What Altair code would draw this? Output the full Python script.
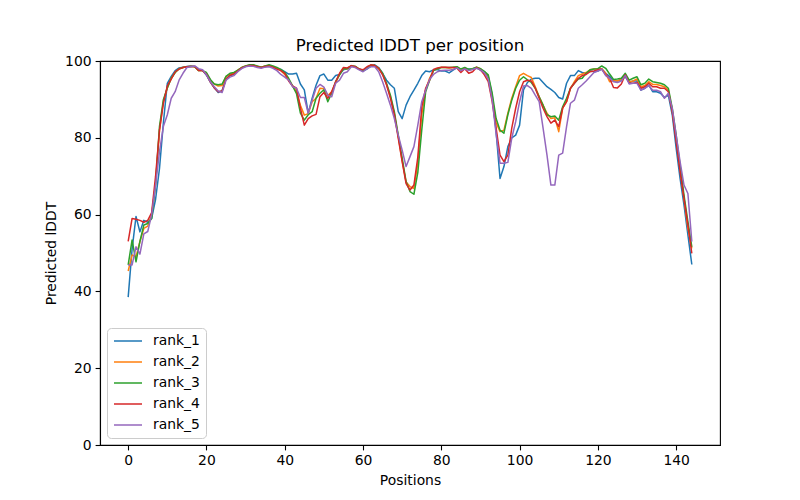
import altair as alt
import pandas as pd

positions = list(range(145))
series_names = ["rank_1", "rank_2", "rank_3", "rank_4", "rank_5"]
series_colors = ["#1f77b4", "#ff7f0e", "#2ca02c", "#d62728", "#9467bd"]

rank_1 = [
    38.5, 51, 59.5, 55.5, 58.5, 58, 59, 64, 72, 84,
    94.2, 96, 97.5, 98.2, 98.4, 98.6, 98.7, 98.6, 97.8, 97.6,
    96.3, 94.5, 93, 91.8, 92.3, 95.3, 96.2, 96.5, 97.5, 98.2,
    98.6, 98.8, 98.8, 98.5, 98.3, 98.6, 98.7, 98.4, 98, 97.8,
    97.2, 96.6, 96.6, 96.8, 94, 92.5, 86.4, 90.3, 93.7, 96.2,
    96.6, 95, 95, 96.2, 96.5, 97.7, 98, 98.7, 98.6, 97.9,
    97.4, 97.9, 98.7, 99, 98.3, 96.8, 95, 93.8, 92.9, 86.8,
    85, 88.5, 90.7, 92.4, 94.2, 96.2, 97.4, 97.2, 97.7, 97.8,
    97.4, 97.4, 96.9, 97.6, 98.3, 97.6, 98, 97.9, 98, 98.3,
    97.6, 97.2, 95.9, 91.1, 81.6, 69.4, 72.5, 77.7, 80, 80.7,
    83.3, 92.5, 94.4, 95.3, 95.5, 95.5, 94.4, 93.3, 92.6, 91.8,
    90.5, 90.1, 94.2, 96.2, 96.2, 97.5, 97, 96.8, 97.5, 97.2,
    97.4, 97.9, 96.8, 96, 94.8, 94.8, 95.1, 95.9, 94.4, 94.8,
    94.8, 92.4, 92.9, 93.7, 92, 92, 91.6, 90.5, 91.1, 86,
    77.3, 69.4, 62.5, 54.7, 47,
]
rank_2 = [
    45.3, 49.5, 49, 53, 56.4, 57, 60, 68, 82, 89.5,
    93, 95.5, 97, 98, 98.3, 98.5, 98.6, 98.5, 97.5, 97.5,
    96.8, 95, 94, 93.5, 93.6, 96, 96.6, 96.8, 97.6, 98.3,
    98.7, 98.9, 98.9, 98.6, 98.4, 98.7, 98.8, 98.5, 98, 97.5,
    96.5, 95, 93.5, 92, 88.5, 85.9, 86.3, 89.4, 90.3, 92.9,
    92.8, 91, 92, 94.3, 96.5, 98, 98, 98.7, 98.6, 97.9,
    97.5, 98.2, 98.9, 98.8, 98.1, 96.6, 93.9, 90.7, 86.3, 80.3,
    74, 68.5, 67.3, 66.8, 73.5, 86, 92.5, 95.5, 97.5, 98,
    98.3, 98.3, 98.2, 98.3, 98.5, 97.8, 98.2, 97.6, 97.9, 98.4,
    98, 97, 95.5, 90.3, 84, 81.6, 82, 86.4, 90.3, 93.3,
    96.2, 96.8, 96.2, 95.7, 93.3, 90.7, 88.5, 86.4, 85, 85.2,
    81.6, 87.7, 89.4, 92.9, 94.6, 96.2, 96.6, 97, 97.7, 97.9,
    98, 98, 96.8, 94.6, 95, 94.8, 95.3, 96.4, 94.6, 94.8,
    95.3, 93.3, 93.6, 94.6, 93.9, 93.9, 93.6, 93.3, 92.4, 87.2,
    79.9, 72.1, 64.2, 56.4, 51.2,
]
rank_3 = [
    46.9, 53.4, 47.7, 53, 57.3, 57.7, 59, 68, 83, 90,
    93, 95.5, 97, 98, 98.3, 98.5, 98.6, 98.5, 97.5, 97.5,
    97, 95.2, 94, 93.8, 94, 96, 96.8, 97, 97.6, 98.3,
    98.7, 99, 99, 98.7, 98.4, 98.7, 99, 98.7, 98.3, 97.8,
    97, 95.5, 93.5, 91.5, 86.4, 84.6, 86, 86.8, 90.3, 91.6,
    92.5, 89.4, 91.6, 94.6, 96.4, 98, 98, 98.7, 98.6, 97.9,
    97.5, 98.2, 98.9, 98.8, 98.1, 96.8, 94.2, 91.1, 86.8, 80.7,
    74.7, 68.6, 66, 65.3, 71, 82, 92, 94.9, 97.5, 98,
    98.3, 98.3, 98.3, 98.4, 98.5, 97.9, 98.3, 97.8, 98, 98.4,
    98, 97.3, 96.4, 91.6, 85, 82, 81.2, 86, 89.8, 92.9,
    95, 95.9, 95.1, 94.4, 92.9, 90.7, 88.5, 86, 85.5, 85.7,
    84.6, 88.1, 90.3, 92.9, 94.2, 95.3, 95.5, 96.8, 97.7, 97.9,
    98, 98.7, 98.1, 96.6, 95.2, 95.3, 95.5, 96.8, 95, 95.5,
    95.9, 93.8, 94.2, 95.3, 94.6, 94.4, 94.2, 93.8, 92.9, 87.7,
    80.7, 72.9, 65.1, 58.2, 51.6,
]
rank_4 = [
    53, 59, 58.8, 58.5, 58, 58.5, 60.5, 70, 82, 89,
    93.5, 95.3, 97.2, 97.9, 98.3, 98.5, 98.6, 98.6, 97.5, 97.5,
    96.5, 94.5, 93, 92, 92.2, 95.3, 96.3, 96.6, 97.4, 98.2,
    98.6, 98.8, 98.8, 98.5, 98.3, 98.6, 98.7, 98.4, 97.9, 97.5,
    96.8, 94.8, 93.5, 92.9, 87.7, 83.3, 85, 85.7, 86.1, 90.7,
    91.8, 90.3, 92, 94.6, 96.8, 98.3, 98.2, 98.8, 98.5, 97.9,
    97.7, 98.5, 99, 98.8, 98.1, 96.4, 93.8, 90.3, 86, 79.9,
    73.8, 68.1, 66.4, 67.7, 75, 88, 92.9, 95, 97.8, 98.2,
    98.4, 98.4, 98.3, 98.3, 98.1, 97, 98, 96.8, 97.2, 98.3,
    97.7, 96.4, 94.6, 89.4, 82.5, 75.5, 73.8, 75.5, 82.5, 87.7,
    92, 94.6, 95, 94.8, 92.9, 90.3, 87.7, 85.5, 83.8, 84.6,
    82.9, 87.7, 89.4, 92.9, 94.2, 95.5, 96.2, 96.5, 97.2, 97.4,
    97.7, 97.9, 96.4, 95.5, 93.1, 93, 94, 96.4, 94.2, 94.2,
    94.4, 92.9, 93.3, 94.2, 93.3, 93.3, 92.9, 92.9, 92, 86.8,
    79, 71.2, 64.2, 57.3, 49.9,
]
rank_5 = [
    46.9, 46.9, 51.6, 49.7, 55, 55.6, 60, 67.7, 76.4, 83,
    86, 90.3, 92, 95, 96.8, 98.3, 98.5, 98.7, 98, 97.7,
    96.4, 94.6, 93.3, 92.2, 91.8, 95, 95.8, 96.2, 97.2, 98,
    98.5, 98.7, 98.6, 98.3, 98.1, 98.4, 98.5, 98.1, 97.5, 96.5,
    95.8, 95, 93.3, 92.9, 90.5, 90.5, 86.4, 89.8, 92.9, 93.9,
    93.2, 91.1, 90.7, 94.2, 95, 96.8, 97.2, 98.5, 98.3, 97.7,
    97.2, 98, 98.5, 98.5, 97.2, 94.6, 91.6, 88.5, 85, 80.7,
    76.8, 72.5, 75.1, 77.7, 83.3, 89.4, 92.4, 95.2, 96.5, 97.2,
    97.5, 97.6, 97.6, 97.8, 98.2, 97.5, 97.9, 97.5, 97.8, 98.1,
    97.7, 96.9, 95.3, 89.8, 81, 73.4, 73.4, 73.6, 79.9, 84.2,
    89.4, 93.5, 93.6, 92.9, 91.1, 89.4, 82.5, 75.5, 67.7, 67.7,
    75.5, 76, 82.9, 89, 89.8, 92.9, 93.8, 94.8, 95.9, 97,
    97.4, 97.9, 96.2, 95.5, 94.6, 94.4, 94.8, 96.2, 94, 94.2,
    94.2, 92.4, 92.9, 93.6, 92.4, 92.4, 92, 90.3, 91.6, 87.7,
    80.7, 73.8, 67.7, 65.5, 53,
]

x_ticks = [0, 20, 40, 60, 80, 100, 120, 140]
y_ticks = [0, 20, 40, 60, 80, 100]

all_series = [rank_1, rank_2, rank_3, rank_4, rank_5]
rows = []
for name, vals in zip(series_names, all_series):
    for p, v in zip(positions, vals):
        rows.append({"Position": p, "lDDT": v, "rank": name})
df = pd.DataFrame(rows)

FONT = "DejaVu Sans"

chart = (
    alt.Chart(df)
    .mark_line(strokeWidth=1.5, strokeJoin="round")
    .encode(
        x=alt.X(
            "Position:Q",
            scale=alt.Scale(domain=[-7.2, 151.2], nice=False, zero=False),
            axis=alt.Axis(values=x_ticks, title="Positions", format="d"),
        ),
        y=alt.Y(
            "lDDT:Q",
            scale=alt.Scale(domain=[0, 100], nice=False),
            axis=alt.Axis(values=y_ticks, title="Predicted lDDT", format="d"),
        ),
        color=alt.Color(
            "rank:N",
            scale=alt.Scale(domain=series_names, range=series_colors),
            legend=alt.Legend(
                title=None,
                orient="bottom-left",
                offset=7,
                symbolType="stroke",
                symbolSize=784,
                symbolStrokeWidth=1.5,
                labelFontSize=13.9,
                labelFont=FONT,
                labelColor="black",
                rowPadding=7,
                clipHeight=14,
                labelOffset=10,
                padding=6,
                fillColor="rgba(255,255,255,0.8)",
                strokeColor="#cccccc",
                cornerRadius=4,
            ),
        ),
    )
    .properties(
        width=620,
        height=384,
        title=alt.TitleParams("Predicted lDDT per position", fontSize=16.7, fontWeight="normal", font=FONT, color="black", offset=-1),
        autosize=alt.AutoSizeParams(type="none"),
        padding={"left": 92, "top": 53, "right": 72, "bottom": 47},
    )
    .configure_view(stroke="black", strokeWidth=1.1)
    .configure_axis(
        grid=False,
        domainColor="black",
        domainWidth=1.1,
        tickColor="black",
        tickWidth=1.1,
        tickSize=4.9,
        labelPadding=4,
        labelFont=FONT,
        labelFontSize=13.9,
        labelColor="black",
        titleFont=FONT,
        titleFontSize=13.9,
        titleFontWeight="normal",
        titleColor="black",
        titlePadding=6,
    )
)

chart.save("out.html", embed_options={"renderer": "svg", "actions": False})
